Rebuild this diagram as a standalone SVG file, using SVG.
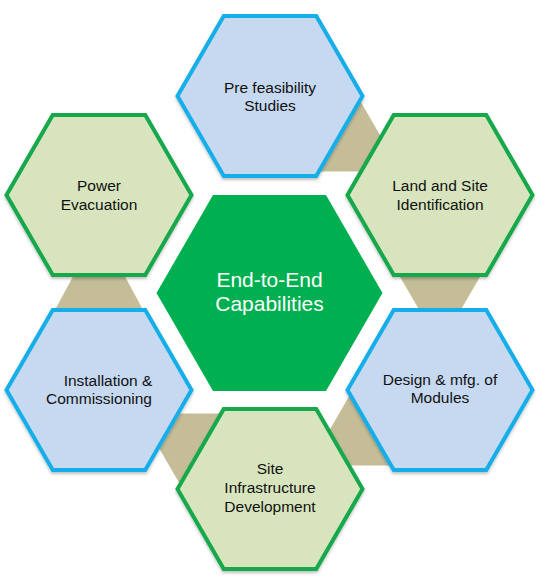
<svg xmlns="http://www.w3.org/2000/svg" width="545" height="588" viewBox="0 0 545 588">
  <defs>
    <filter id="sh" x="-10%" y="-10%" width="120%" height="125%">
      <feDropShadow dx="0" dy="2" stdDeviation="1.5" flood-color="#000" flood-opacity="0.25"/>
    </filter>
    <style>
      .tan { fill: #c4bd97; }
      .blue { fill: #c6d9f1; stroke: #15aee8; stroke-width: 4; stroke-linejoin: miter; filter: url(#sh); }
      .green { fill: #d7e4bd; stroke: #13a84b; stroke-width: 4; stroke-linejoin: miter; filter: url(#sh); }
      .core { fill: #00b050; }
      .lbl { font-family: "Liberation Sans", Arial, sans-serif; font-size: 15.5px; fill: #111; text-anchor: middle; }
      .clbl { font-family: "Liberation Sans", Arial, sans-serif; font-size: 21px; fill: #ffffff; text-anchor: middle; }
    </style>
  </defs>
  <rect width="545" height="588" fill="#ffffff"/>

  <g id="connectors">
    <polygon class="tan" points="298.5,136 319,100.5 360,100.5 380.5,136 360,171.5 319,171.5"/>
    <polygon class="tan" points="399,275 419.5,239.5 460.5,239.5 481,275 460.5,310.5 419.5,310.5"/>
    <polygon class="tan" points="329.6,430 350.1,394.5 391.1,394.5 411.6,430 391.1,465.5 350.1,465.5"/>
    <polygon class="tan" points="159.6,449 180.1,413.5 221.1,413.5 241.6,449 221.1,484.5 180.1,484.5"/>
    <polygon class="tan" points="56,308 76.5,270 121.5,270 142,308 121.5,345.5 76.5,345.5"/>
  </g>

  <g id="pre-feasibility">
    <polygon class="blue" points="177.5,96 223.75,15.9 316.25,15.9 362.5,96 316.25,176.1 223.75,176.1"/>
    <text class="lbl" x="270" y="93">Pre feasibility</text>
    <text class="lbl" x="270" y="111">Studies</text>
  </g>

  <g id="land-site">
    <polygon class="green" points="347.5,195 393.75,114.9 486.25,114.9 532.5,195 486.25,275.1 393.75,275.1"/>
    <text class="lbl" x="440" y="191">Land and Site</text>
    <text class="lbl" x="440" y="209.5">Identification</text>
  </g>

  <g id="design-modules">
    <polygon class="blue" points="347.5,390 393.75,309.9 486.25,309.9 532.5,390 486.25,470.1 393.75,470.1"/>
    <text class="lbl" x="440" y="385">Design &amp; mfg. of</text>
    <text class="lbl" x="440" y="403">Modules</text>
  </g>

  <g id="site-infrastructure">
    <polygon class="green" points="177.5,489 223.75,408.9 316.25,408.9 362.5,489 316.25,569.1 223.75,569.1"/>
    <text class="lbl" x="270" y="474">Site</text>
    <text class="lbl" x="270" y="493">Infrastructure</text>
    <text class="lbl" x="270" y="511.5">Development</text>
  </g>

  <g id="installation">
    <polygon class="blue" points="6.5,390 52.75,309.9 145.25,309.9 191.5,390 145.25,470.1 52.75,470.1"/>
    <text class="lbl" x="108" y="386">Installation &amp;</text>
    <text class="lbl" x="99" y="404">Commissioning</text>
  </g>

  <g id="power-evacuation">
    <polygon class="green" points="6.5,195 52.75,114.9 145.25,114.9 191.5,195 145.25,275.1 52.75,275.1"/>
    <text class="lbl" x="99" y="191">Power</text>
    <text class="lbl" x="99" y="209.5">Evacuation</text>
  </g>

  <g id="end-to-end">
    <polygon class="core" points="156.5,293 213,195.1 326,195.1 382.5,293 326,390.9 213,390.9"/>
    <text class="clbl" x="269.5" y="287">End-to-End</text>
    <text class="clbl" x="269.5" y="311">Capabilities</text>
  </g>
</svg>
